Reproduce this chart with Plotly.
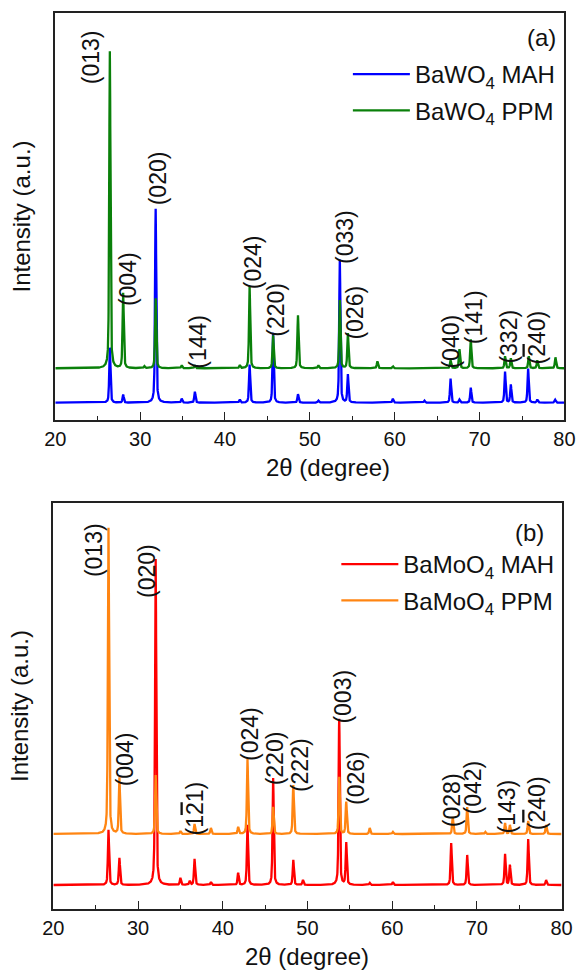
import numpy as np
import plotly.graph_objects as go

# ---------------- data ----------------
two_theta_range = [20, 80]

# (a) BaWO4 -- peak positions (2θ, degree) and relative intensities (a.u.)
bawo4_mah_pos = [26.43, 28.0, 31.83, 34.9, 36.45, 41.74, 42.9, 45.67, 48.6, 51.0, 53.53, 54.48,
                 59.77, 63.5, 66.58, 67.63, 68.96, 73.0, 73.68, 75.72, 76.8, 78.9]
bawo4_mah_int = [55, 8, 194, 4, 11, 3, 38, 70, 8.5, 2, 143, 28,
                 4, 2, 24, 3, 15, 31, 18, 34, 3, 3]

bawo4_ppm_pos = [26.43, 28.0, 30.5, 31.83, 34.9, 36.45, 41.74, 42.9, 45.67, 48.6, 51.0, 53.53,
                 54.48, 57.96, 59.77, 66.58, 67.63, 68.96, 73.0, 73.68, 75.8, 76.8, 78.94]
bawo4_ppm_int = [317, 75, 2, 70, 3, 3, 3, 82, 33, 53, 3, 68,
                 35, 7, 2, 8, 19, 29, 12, 10, 12, 8, 11]

# (b) BaMoO4
bamoo4_mah_pos = [26.51, 27.8, 32.08, 35.0, 36.1, 36.67, 38.6, 41.82, 42.92, 45.95, 48.33, 49.47,
                  53.75, 54.58, 57.35, 60.08, 66.97, 68.86, 73.33, 73.9, 76.06, 78.18]
bamoo4_mah_int = [55, 27, 326, 7, 4, 26, 3, 12, 60, 107, 25, 5,
                  166, 42, 2, 3, 42, 30, 31, 20, 46, 5]

bamoo4_ppm_pos = [26.51, 27.8, 32.08, 35.0, 36.67, 38.6, 41.82, 42.92, 45.95, 48.33, 53.75, 54.58,
                  57.35, 60.08, 67.15, 68.86, 71.0, 73.33, 73.9, 76.06, 78.18]
bamoo4_ppm_int = [306, 56, 59, 3, 10, 6, 7, 75, 27, 49, 57, 32,
                  6, 2, 17, 27, 2, 11, 9, 13, 9]

# vertical offsets of the stacked patterns
offset_a = {"MAH": 17.3, "PPM": 51.7}
offset_b = {"MAH": 24.0, "PPM": 75.0}

OV = '<span style="text-decoration:overline">2</span>'
# reflection labels: (text, 2θ, intensity-level)
labels_a = [("(013)", 24.23, 363), ("(004)", 28.58, 141), ("(020)", 32.14, 242),
            ("(144)", 36.79, 78), ("(024)", 43.33, 158), ("(220)", 45.97, 110),
            ("(033)", 54.14, 183), ("(026)", 55.27, 107), ("(040)", 66.58, 78),
            ("(141)", 69.36, 103), ("(332)", 73.42, 83), ("(" + OV + "40)", 76.82, 83)]
labels_b = [("(013)", 24.81, 359), ("(020)", 31.06, 338), ("(004)", 28.5, 150),
            ("(1" + OV + "1)", 36.78, 101), ("(024)", 43.22, 175), ("(220)", 46.21, 151),
            ("(222)", 49.13, 144), ("(003)", 54.15, 212), ("(026)", 55.72, 131),
            ("(028)", 67.08, 109), ("(042)", 69.6, 122), ("(143)", 73.61, 103),
            ("(" + OV + "40)", 77.12, 106)]

# ---------------- build patterns ----------------
tt = np.round(np.arange(20, 80.0001, 0.01), 3)


def pattern(pos, inten, fwhm=0.17, eta=0.5):
    y = np.zeros_like(tt)
    g = fwhm / 2.3548
    for p, h in zip(pos, inten):
        d = tt - p
        lor = 1.0 / (1.0 + (2 * d / fwhm) ** 2)
        gau = np.exp(-0.5 * (d / g) ** 2)
        y += h * (eta * lor + (1 - eta) * gau)
    return y


FONT = "Liberation Sans, Arial, sans-serif"
LW = 2.3

fig = go.Figure()
fig.add_trace(go.Scatter(x=tt, y=pattern(bawo4_mah_pos, bawo4_mah_int) + offset_a["MAH"],
                         mode="lines", line=dict(color="#0000ff", width=LW),
                         name="BaWO<sub>4</sub> MAH", xaxis="x", yaxis="y", legend="legend",
                         legendgroup="a1"))
fig.add_trace(go.Scatter(x=tt, y=pattern(bawo4_ppm_pos, bawo4_ppm_int) + offset_a["PPM"],
                         mode="lines", line=dict(color="#0a800a", width=LW),
                         name="BaWO<sub>4</sub> PPM", xaxis="x", yaxis="y", legend="legend",
                         legendgroup="a2"))
fig.add_trace(go.Scatter(x=tt, y=pattern(bamoo4_mah_pos, bamoo4_mah_int) + offset_b["MAH"],
                         mode="lines", line=dict(color="#ff0000", width=LW),
                         name="BaMoO<sub>4</sub> MAH", xaxis="x2", yaxis="y2", legend="legend2",
                         legendgroup="b1"))
fig.add_trace(go.Scatter(x=tt, y=pattern(bamoo4_ppm_pos, bamoo4_ppm_int) + offset_b["PPM"],
                         mode="lines", line=dict(color="#ff8512", width=LW),
                         name="BaMoO<sub>4</sub> PPM", xaxis="x2", yaxis="y2", legend="legend2",
                         legendgroup="b2"))

W, H = 587, 973

xcommon = dict(range=two_theta_range, dtick=10, tick0=20, ticks="inside", ticklen=8, tickwidth=1.3,
               tickcolor="#222", showline=True, linecolor="#222", linewidth=1.5, mirror=True,
               showgrid=False, zeroline=False,
               minor=dict(dtick=5, ticks="inside", ticklen=4, tickwidth=1.3, tickcolor="#222"),
               tickfont=dict(family=FONT, size=20, color="#111"))
ycommon = dict(showline=True, linecolor="#222", linewidth=1.5, mirror=True, showgrid=False,
               zeroline=False, showticklabels=False, ticks="",
               title=dict(text="Intensity (a.u.)", font=dict(family=FONT, size=24, color="#111"),
                          standoff=16))

fig.update_layout(
    width=W, height=H, margin=dict(l=0, r=0, t=0, b=0),
    paper_bgcolor="white", plot_bgcolor="white",
    xaxis=dict(xcommon, domain=[46 / W, 575 / W], anchor="y"),
    yaxis=dict(ycommon, domain=[1 - 420 / H, 1 - 13 / H], range=[0, 407], anchor="x"),
    xaxis2=dict(xcommon, domain=[44 / W, 572 / W], anchor="y2"),
    yaxis2=dict(ycommon, domain=[1 - 909 / H, 1 - 503 / H], range=[0, 406], anchor="x2"),
    legend=dict(x=350 / W, y=1 - 52 / H, xanchor="left", yanchor="top", bgcolor="rgba(0,0,0,0)",
                font=dict(family=FONT, size=24, color="#111"), itemwidth=57, tracegroupgap=2),
    legend2=dict(x=338 / W, y=1 - 542 / H, xanchor="left", yanchor="top", bgcolor="rgba(0,0,0,0)",
                 font=dict(family=FONT, size=24, color="#111"), itemwidth=57, tracegroupgap=2),
    showlegend=True,
)

annotations = []
for txt, xx, yy in labels_a:
    annotations.append(dict(text=txt, x=xx, y=yy, xref="x", yref="y", showarrow=False,
                            textangle=-90, font=dict(family=FONT, size=23, color="#111")))
for txt, xx, yy in labels_b:
    annotations.append(dict(text=txt, x=xx, y=yy, xref="x2", yref="y2", showarrow=False,
                            textangle=-90, font=dict(family=FONT, size=23, color="#111")))
annotations.append(dict(text="(a)", x=568 / W, y=1 - 38 / H, xref="paper", yref="paper",
                        xanchor="right", yanchor="middle", showarrow=False,
                        font=dict(family=FONT, size=24, color="#111")))
annotations.append(dict(text="(b)", x=556 / W, y=1 - 532 / H, xref="paper", yref="paper",
                        xanchor="right", yanchor="middle", showarrow=False,
                        font=dict(family=FONT, size=24, color="#111")))
# x-axis titles
annotations.append(dict(text="2\u03b8 (degree)", x=329 / W, y=1 - 467 / H, xref="paper", yref="paper",
                        xanchor="center", yanchor="middle", showarrow=False,
                        font=dict(family=FONT, size=24, color="#111")))
annotations.append(dict(text="2\u03b8 (degree)", x=307.5 / W, y=1 - 956 / H, xref="paper", yref="paper",
                        xanchor="center", yanchor="middle", showarrow=False,
                        font=dict(family=FONT, size=24, color="#111")))
fig.update_layout(annotations=annotations)

fig.write_html("out.html", config={"displayModeBar": False},
               post_script="document.body.style.margin='0';document.body.style.overflow='hidden';")
